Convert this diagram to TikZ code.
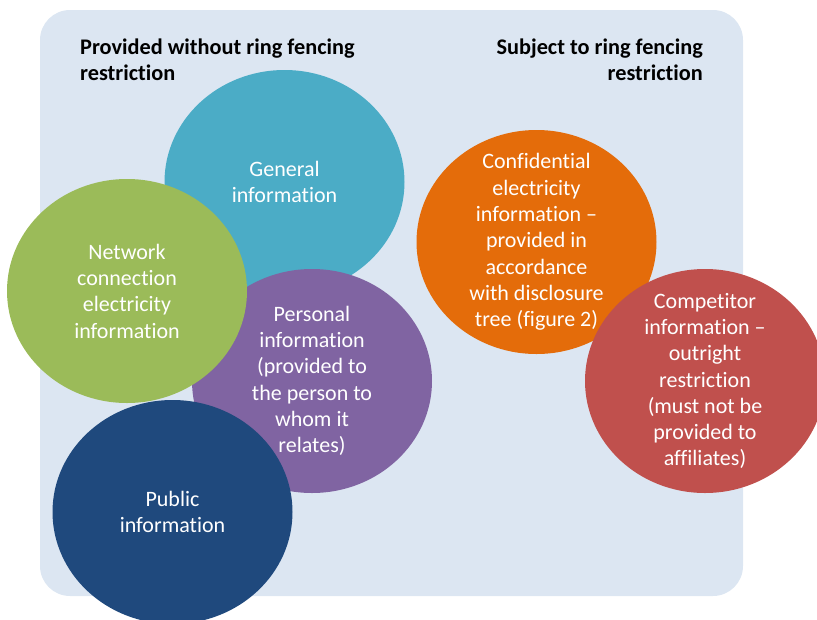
\documentclass[tikz,border=0pt]{standalone}
\usepackage{fontspec}
\setmainfont{Carlito}[Ligatures=NoCommon]
\usepackage{tikz}
\usetikzlibrary{shapes.geometric}
\definecolor{panelbg}{HTML}{DCE6F2}
\definecolor{tealinfo}{HTML}{4BACC6}
\definecolor{greeninfo}{HTML}{9BBB59}
\definecolor{purpleinfo}{HTML}{8064A2}
\definecolor{navyinfo}{HTML}{1F497D}
\definecolor{orangeinfo}{HTML}{E46C0A}
\definecolor{redinfo}{HTML}{C0504D}

\begin{document}
\begin{tikzpicture}[x=1pt,y=-1pt,
  blob/.style={ellipse,fill=#1,draw=none,minimum width=240pt,minimum height=224pt,inner sep=0pt},
  blobtext/.style={text=white,align=center,inner sep=0pt,font=\fontsize{22}{26.3}\selectfont},
  heading/.style={align=#1,inner sep=0pt,font=\bfseries\fontsize{22.3}{25.5}\selectfont}]
\useasboundingbox (0,0) rectangle (817,619);
\fill[panelbg,rounded corners=30pt] (40,10) rectangle (743,596);
\node[heading=left,anchor=north west] (leftHead) at (80,39) {Provided without ring fencing\\restriction};
\node[heading=right,anchor=north east] (rightHead) at (703,39) {Subject to ring fencing\\restriction};
% circles, back to front
\foreach \nm/\col/\px/\py/\txt in %
{general/tealinfo/284.5/182/{General\\information},
 personal/purpleinfo/312/381/{Personal\\information\\(provided to\\the person to\\whom it\\relates)},
 network/greeninfo/127/291/{Network\\connection\\electricity\\information},
 public/navyinfo/172.5/512/{Public\\information},
 confidential/orangeinfo/536.5/242/{Confidential\\electricity\\information --\\provided in\\accordance\\with disclosure\\tree (figure 2)},
 competitor/redinfo/705/381/{Competitor\\information --\\outright\\restriction\\(must not be\\provided to\\affiliates)}} {
   \node[blob=\col] (\nm) at (\px,\py) {};
   \node[blobtext] (\nm-txt) at (\nm.center) {\txt};
}
\end{tikzpicture}
\end{document}
